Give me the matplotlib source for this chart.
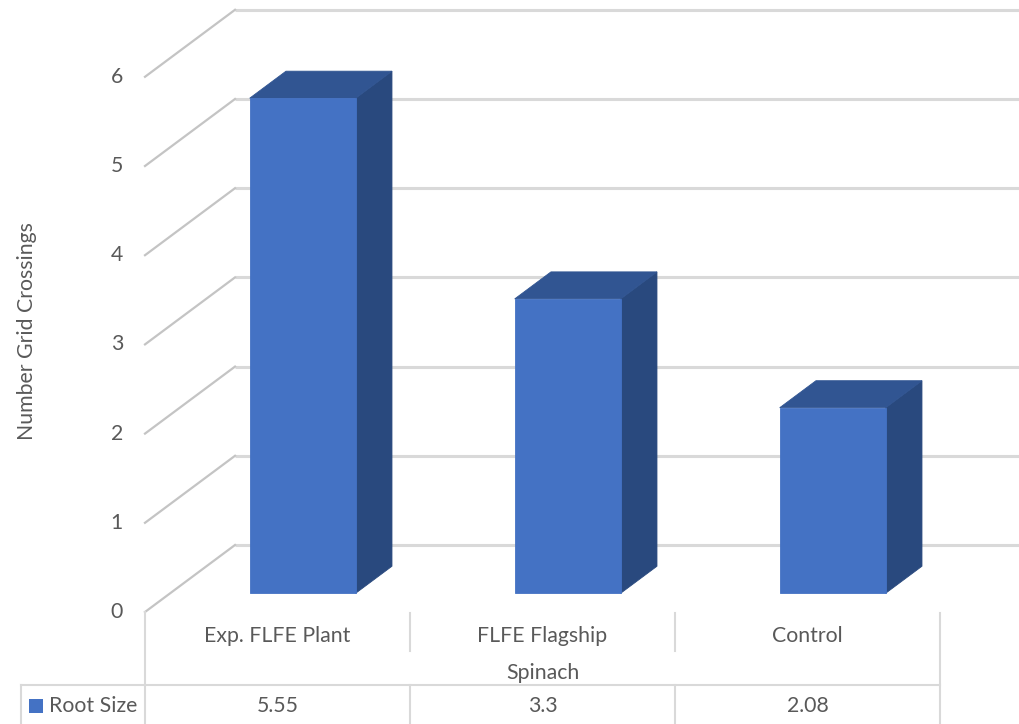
import matplotlib
matplotlib.use("Agg")
import matplotlib.pyplot as plt
from matplotlib.patches import Polygon, Rectangle

# ---- data ----
categories = ["Exp. FLFE Plant", "FLFE Flagship", "Control"]
group_label = "Spinach"
series_name = "Root Size"
values = [5.55, 3.3, 2.08]
value_labels = ["5.55", "3.3", "2.08"]
y_ticks = [0, 1, 2, 3, 4, 5, 6]
y_title = "Number Grid Crossings"

# ---- style ----
FONT = "Lato"
TXT = "#595959"
GRID = "#d9d9d9"
WALL = "#c4c4c4"
FRONT = "#4472c4"
TOP = "#315592"
SIDE = "#29497e"
FS = 15.3

W, H = 1020, 724
fig = plt.figure(figsize=(W / 100, H / 100), dpi=100)
ax = fig.add_axes([0, 0, 1, 1])
ax.axis("off")

# Front plane of the plot: category units horizontally, value units vertically
X0, CAT_W = 145.0, 265.0
Y0, UNIT = 612.0, 89.2
ax.set_xlim(-X0 / CAT_W, (W - X0) / CAT_W)
ax.set_ylim((Y0 - H) / UNIT, Y0 / UNIT)

# Oblique depth offset (depth 0 = front, 1 = back wall)
DX = 90.0 / CAT_W
DY = 67.0 / UNIT


def proj(x, v, d):
    return (x + d * DX, v + d * DY)


def xpx(px):
    return (px - X0) / CAT_W


def ypx(py):
    return (Y0 - py) / UNIT


n = len(categories)

# back wall gridlines and side wall diagonals
for v in y_ticks:
    bx, by = proj(0, v, 1)
    ex, _ = proj(n + 0.2, v, 1)
    ax.plot([bx, ex], [by, by], color=GRID, lw=2.2, solid_capstyle="butt", zorder=1)
    fx, fy = proj(0, v, 0)
    ax.plot([fx, bx], [fy, by], color=WALL, lw=1.6, zorder=1)
    ax.text(xpx(123), v, str(v), ha="right", va="center", fontsize=FS,
            color=TXT, family=FONT)

# 3D columns
BAR_W = 0.4
D0, D1 = 0.28, 0.683
for i, val in enumerate(values):
    x0 = i + 0.5 - BAR_W / 2
    x1 = i + 0.5 + BAR_W / 2
    front = [proj(x0, 0, D0), proj(x1, 0, D0), proj(x1, val, D0), proj(x0, val, D0)]
    top = [proj(x0, val, D0), proj(x1, val, D0), proj(x1, val, D1), proj(x0, val, D1)]
    side = [proj(x1, 0, D0), proj(x1, 0, D1), proj(x1, val, D1), proj(x1, val, D0)]
    for pts, col in ((side, SIDE), (top, TOP), (front, FRONT)):
        ax.add_patch(Polygon(pts, closed=True, facecolor=col, edgecolor=col,
                             lw=0.6, zorder=3))

# axis title
ax.text(xpx(27), ypx(331), y_title, rotation=90, ha="center", va="center",
        fontsize=FS, color=TXT, family=FONT)

# ---- data table ----
LC = "#d9d9d9"
LW = 1.5
row_cat, row_grp, row_line, row_val = 636, 673, 685, 706
ax.plot([xpx(21), n], [ypx(row_line)] * 2, color=LC, lw=LW)
ax.plot([xpx(21)] * 2, [ypx(row_line), ypx(H + 2)], color=LC, lw=LW)
ax.plot([0, 0], [ypx(612), ypx(H + 2)], color=LC, lw=LW)
ax.plot([n, n], [ypx(613), ypx(H + 2)], color=LC, lw=LW)
for k in range(1, n):
    ax.plot([k, k], [ypx(613), ypx(651)], color=LC, lw=LW)
    ax.plot([k, k], [ypx(row_line), ypx(H + 2)], color=LC, lw=LW)

for i, (c, lab) in enumerate(zip(categories, value_labels)):
    ax.text(i + 0.5, ypx(row_cat), c, ha="center", va="center", fontsize=FS,
            color=TXT, family=FONT)
    ax.text(i + 0.5, ypx(row_val), lab, ha="center", va="center", fontsize=FS,
            color=TXT, family=FONT)
ax.text(n / 2, ypx(row_grp), group_label, ha="center", va="center", fontsize=FS,
        color=TXT, family=FONT)

ax.add_patch(Rectangle((xpx(29), ypx(713)), 14 / CAT_W, 14 / UNIT,
                       facecolor=FRONT, edgecolor="none"))
ax.text(xpx(49), ypx(row_val), series_name, ha="left", va="center", fontsize=FS,
        color=TXT, family=FONT)

fig.savefig("out.png", dpi=100, facecolor="white")
